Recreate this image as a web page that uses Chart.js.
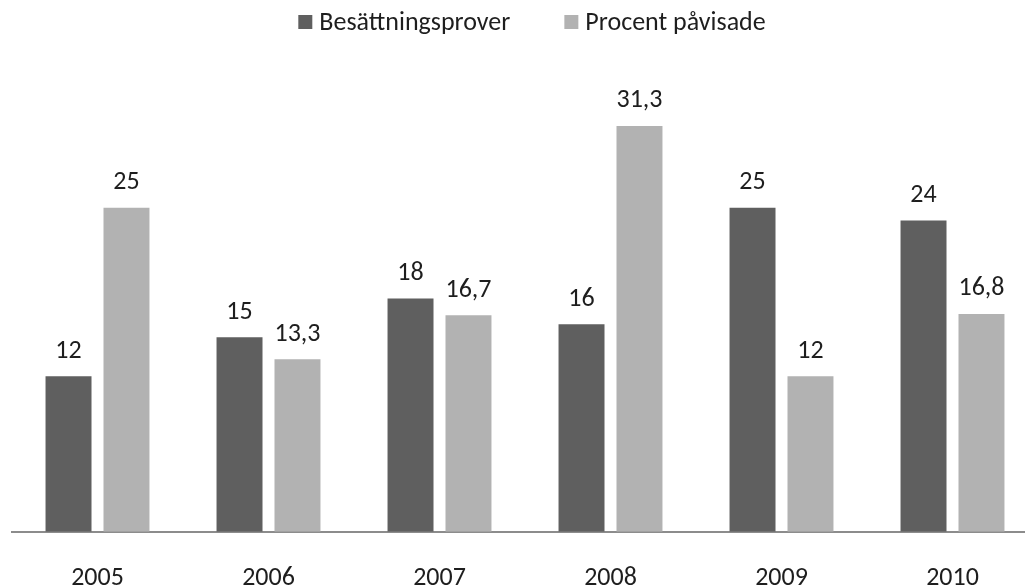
<!DOCTYPE html>
<html>
<head>
<meta charset="utf-8">
<script src="https://cdn.jsdelivr.net/npm/chart.js@4"></script>
<style>
  html, body { margin: 0; padding: 0; background: #fff; overflow: hidden; }
  #wrap { position: absolute; left: 0; top: 0; width: 1050px; height: 617px; }
</style>
</head>
<body>
<div id="wrap"><canvas id="chart"></canvas></div>
<script>
// --- Data ---
const years = ['2005', '2006', '2007', '2008', '2009', '2010'];
const besattningsprover = [12, 15, 18, 16, 25, 24];
const procentPavisade = [25, 13.3, 16.7, 31.3, 12, 16.8];

const FONT = "Carlito, 'Open Sans', sans-serif";
const TEXT = '#1e1e1e';

// draws the value above each bar, Swedish decimal comma
const valueLabels = {
    id: 'valueLabels',
    afterDatasetsDraw(chart) {
        const ctx = chart.ctx;
        ctx.save();
        ctx.font = `26px ${FONT}`;
        ctx.fillStyle = TEXT;
        ctx.textAlign = 'center';
        ctx.textBaseline = 'bottom';
        chart.data.datasets.forEach((ds, i) => {
            chart.getDatasetMeta(i).data.forEach((bar, j) => {
                const txt = String(ds.data[j]).replace('.', ',');
                ctx.fillText(txt, bar.x, bar.y - 12);
            });
        });
        ctx.restore();
    }
};

// legend drawn by hand so the gap between items can be wider than its top margin
const topLegend = {
    id: 'topLegend',
    afterDraw(chart) {
        const ctx = chart.ctx;
        const ds = chart.data.datasets;
        ctx.save();
        ctx.font = `26px ${FONT}`;
        const box = 14, gapText = 7, gapItem = 54;
        const widths = ds.map(d => ctx.measureText(d.label).width);
        let total = 0;
        widths.forEach((w, i) => { total += box + gapText + w + (i < ds.length - 1 ? gapItem : 0); });
        let x = (chart.chartArea.left + chart.chartArea.right) / 2 + 7 - total / 2;
        const cy = 22;
        ctx.textBaseline = 'middle';
        ctx.textAlign = 'left';
        ds.forEach((d, i) => {
            ctx.fillStyle = d.backgroundColor;
            ctx.fillRect(x, cy - box / 2, box, box);
            x += box + gapText;
            ctx.fillStyle = TEXT;
            ctx.fillText(d.label, x, cy + 1);
            x += widths[i] + gapItem;
        });
        ctx.restore();
    }
};

new Chart(document.getElementById('chart'), {
    type: 'bar',
    data: {
        labels: years,
        datasets: [
            { label: 'Besättningsprover', data: besattningsprover, backgroundColor: '#5f5f5f' },
            { label: 'Procent påvisade', data: procentPavisade, backgroundColor: '#b2b2b2' }
        ]
    },
    options: {
        responsive: true, maintainAspectRatio: false, animation: false,
        categoryPercentage: 0.678, barPercentage: 0.793,
        layout: { padding: { left: 12, right: 12, top: 78, bottom: 0 } },
        plugins: {
            legend: { display: false },
            tooltip: { enabled: false }
        },
        scales: {
            x: {
                grid: { display: false },
                border: { color: '#8c8c8c', width: 2 },
                ticks: { font: { family: FONT, size: 26 }, color: TEXT, padding: 23 }
            },
            y: { display: false, min: 0, max: 35 }
        }
    },
    plugins: [valueLabels, topLegend]
});
</script>
</body>
</html>
